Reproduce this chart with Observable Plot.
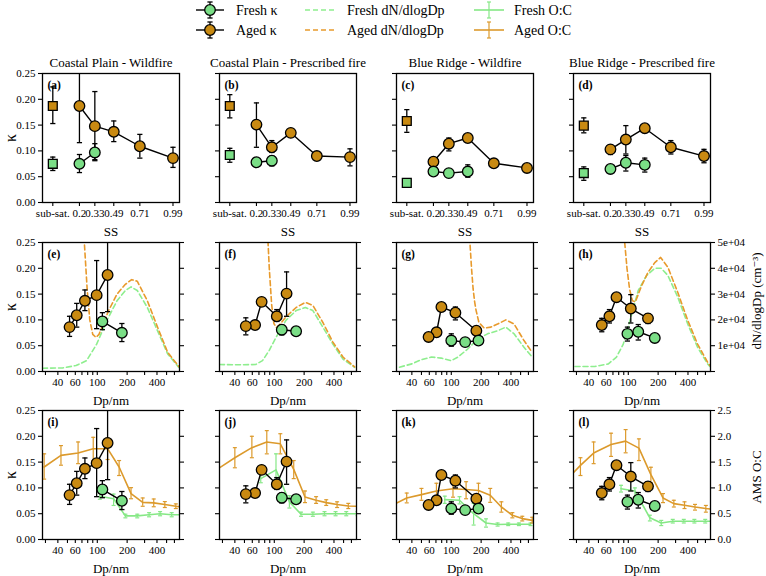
<!DOCTYPE html>
<html><head><meta charset="utf-8">
<script src="https://cdn.jsdelivr.net/npm/d3@7"></script>
<script src="https://cdn.jsdelivr.net/npm/@observablehq/plot@0.6"></script>
<style>
body{margin:0;background:#fff;}
#root{position:relative;width:766px;height:576px;overflow:hidden;background:#fff;font-family:"Liberation Serif","DejaVu Serif",serif;}
#root svg text{font-family:"Liberation Serif","DejaVu Serif",serif;}
#root svg g[aria-label$="tick label"] text{font-size:11px;}
</style></head><body><div id="root"></div>
<script>
// ---------------- data ----------------
const titles = ["Coastal Plain - Wildfire", "Coastal Plain - Prescribed fire", "Blue Ridge - Wildfire", "Blue Ridge - Prescribed fire"];
const panelLetters = ["a","b","c","d","e","f","g","h","i","j","k","l"];
const ssLabels = ["sub-sat.", "0.2", "0.33", "0.49", "0.71", "0.99"];
const ssPositions = [-0.025, 0.2, 0.33, 0.49, 0.71, 0.99];
const ssAged = [0.2, 0.33, 0.49, 0.71, 0.99];
const subSatX = -0.025;

const agedDp = [[127, 98.5, 75, 62, 52.5],[133, 106, 74.5, 64, 51.6],[179, 110, 79.5, 71, 59],[158, 106, 76, 64.5, 54]];
const agedKappa = [[0.187, 0.148, 0.137, 0.109, 0.086],[0.151, 0.107, 0.135, 0.090, 0.088],[0.079, 0.114, 0.125, 0.076, 0.067],[0.103, 0.122, 0.144, 0.107, 0.090]];
const agedKappaLo = [[0.116, 0.083, 0.118, 0.086, 0.068],[0.107, 0.097, 0.129, 0.086, 0.071],[0.075, 0.100, 0.117, 0.072, 0.062],[0.093, 0.094, 0.137, 0.094, 0.077]];
const agedKappaHi = [[0.262, 0.215, 0.158, 0.132, 0.107],[0.193, 0.120, 0.141, 0.094, 0.104],[0.083, 0.125, 0.132, 0.080, 0.071],[0.112, 0.149, 0.151, 0.120, 0.103]];

const freshSS = [[0.2, 0.33],[0.2, 0.33],[0.2, 0.33, 0.49],[0.2, 0.33, 0.49]];
const freshDp = [[177, 112.5],[166, 119],[188, 138, 100],[185, 126, 98]];
const freshKappa = [[0.075, 0.097],[0.078, 0.081],[0.060, 0.057, 0.060],[0.065, 0.077, 0.073]];
const freshKappaLo = [[0.058, 0.081],[0.070, 0.071],[0.057, 0.054, 0.049],[0.062, 0.061, 0.059]];
const freshKappaHi = [[0.093, 0.114],[0.086, 0.090],[0.063, 0.060, 0.073],[0.068, 0.091, 0.086]];

const subSatAged = [0.187, 0.187, 0.158, 0.149];
const subSatAgedLo = [0.153, 0.164, 0.136, 0.135];
const subSatAgedHi = [0.224, 0.209, 0.180, 0.164];
const subSatFresh = [0.075, 0.092, 0.038, 0.057];
const subSatFreshLo = [0.062, 0.078, 0.037, 0.043];
const subSatFreshHi = [0.088, 0.105, 0.039, 0.069];

const freshDnDp = [
  [28, 45, 61, 78, 98.5, 125, 158, 192, 219, 253, 320, 405, 513, 665],
  [28, 45, 65, 76, 89, 104, 131, 166, 206, 245, 309, 390, 493, 646],
  [30, 40, 50, 63, 79, 100, 117, 147, 185, 232, 293, 355, 430, 541, 655],
  [29, 46, 63, 76, 89, 104, 126, 153, 185, 215, 251, 316, 398, 500, 631, 665]];
const freshDn = [
  [1280, 1400, 2320, 4200, 10600, 19800, 27400, 31400, 32800, 31400, 24800, 15800, 6800, 1600],
  [2700, 2600, 2700, 4200, 8200, 13200, 19800, 23600, 24800, 23600, 17200, 10600, 4800, 1600],
  [1680, 2960, 4600, 5600, 5200, 4200, 5600, 8800, 12600, 14600, 15800, 17200, 14600, 9400, 5600],
  [1940, 1940, 2960, 5600, 10600, 19800, 31400, 37200, 40000, 40000, 37200, 28800, 18400, 9400, 2960, 2000]];
const agedDnDp = [
  [68, 74, 79, 84, 90, 97, 104, 115, 130, 158, 192, 222, 253, 320, 405, 513, 665],
  [84, 89, 94, 99, 105, 115, 131, 166, 206, 245, 309, 390, 493, 646],
  [153, 160, 166, 172, 178, 190, 215, 251, 293, 355, 430, 541, 655],
  [92, 97, 103, 110, 118, 136, 158, 185, 212, 251, 316, 398, 500, 631, 665]];
const agedDn = [
  [80000, 50000, 32000, 20000, 14400, 13200, 14400, 18400, 23600, 30000, 33800, 35600, 35000, 27400, 17200, 7400, 1940],
  [60000, 40000, 26000, 18600, 17000, 18400, 21200, 24800, 26800, 25600, 19000, 11400, 5600, 1800],
  [52000, 40000, 32000, 27000, 23600, 19000, 16800, 17200, 18400, 20000, 18400, 12000, 7400],
  [50000, 40000, 32000, 27400, 27000, 33200, 38400, 42200, 44200, 40400, 30600, 19800, 10600, 3600, 2400]];

const agedOcDp = [
  [29.1, 43, 64, 91, 127, 166, 219, 287, 371, 480, 620, 800],
  [26, 40, 59.4, 84, 115, 157, 204, 264, 334, 430, 558, 720],
  [25, 35.5, 50, 70.8, 104, 141, 188, 247, 320, 413, 520, 655],
  [25, 32.9, 44.7, 67, 94, 128, 169, 224, 288, 369, 471, 606, 780]];
const agedOc = [
  [1.405, 1.63, 1.675, 1.76, 1.76, 1.405, 0.89, 0.72, 0.71, 0.677, 0.644, 0.62],
  [1.35, 1.585, 1.78, 1.89, 1.855, 1.36, 0.825, 0.76, 0.715, 0.677, 0.65, 0.64],
  [0.66, 0.805, 0.87, 0.94, 0.985, 0.97, 0.95, 0.857, 0.63, 0.47, 0.405, 0.37],
  [1.2, 1.437, 1.675, 1.84, 1.907, 1.77, 1.256, 0.805, 0.696, 0.664, 0.63, 0.60, 0.58]];
const agedOcLo = [
  [1.17, 1.44, 1.47, 1.53, 1.55, 1.24, 0.79, 0.644, 0.635, 0.62, 0.60, 0.58],
  [1.15, 1.39, 1.585, 1.66, 1.66, 1.18, 0.715, 0.70, 0.66, 0.62, 0.60, 0.59],
  [0.57, 0.71, 0.76, 0.79, 0.82, 0.79, 0.79, 0.72, 0.53, 0.42, 0.36, 0.32],
  [1.0, 1.24, 1.47, 1.61, 1.68, 1.53, 1.10, 0.715, 0.63, 0.60, 0.57, 0.53, 0.52]];
const agedOcHi = [
  [1.66, 1.82, 1.89, 1.98, 1.97, 1.53, 1.005, 0.805, 0.785, 0.735, 0.69, 0.66],
  [1.55, 1.78, 2.0, 2.11, 2.05, 1.53, 0.94, 0.83, 0.77, 0.73, 0.70, 0.69],
  [0.75, 0.90, 0.99, 1.09, 1.15, 1.12, 1.09, 0.99, 0.73, 0.52, 0.45, 0.43],
  [1.4, 1.585, 1.89, 2.06, 2.13, 1.95, 1.40, 0.89, 0.76, 0.73, 0.68, 0.66, 0.64]];
const freshOcDp = [
  [106, 146, 192, 253, 333, 430, 563, 730],
  [73, 104, 142, 186, 245, 321, 415, 532, 690],
  [86, 121, 168, 224, 293, 375, 481, 630],
  [84.5, 116.6, 165, 215, 281, 363, 464, 597, 770]];
const freshOc = [
  [0.838, 0.79, 0.457, 0.457, 0.48, 0.50, 0.48, 0.48],
  [1.18, 1.35, 0.73, 0.49, 0.49, 0.50, 0.50, 0.50, 0.50],
  [0.773, 0.76, 0.50, 0.32, 0.29, 0.296, 0.296, 0.296],
  [0.985, 0.94, 0.42, 0.32, 0.354, 0.354, 0.354, 0.354, 0.354]];
const freshOcLo = [
  [0.78, 0.66, 0.42, 0.42, 0.44, 0.46, 0.44, 0.44],
  [1.10, 1.08, 0.61, 0.45, 0.45, 0.46, 0.46, 0.46, 0.46],
  [0.70, 0.69, 0.28, 0.24, 0.26, 0.27, 0.27, 0.27],
  [0.92, 0.83, 0.36, 0.27, 0.32, 0.32, 0.32, 0.32, 0.32]];
const freshOcHi = [
  [0.90, 0.88, 0.49, 0.49, 0.52, 0.54, 0.52, 0.52],
  [1.26, 1.66, 0.85, 0.53, 0.53, 0.54, 0.54, 0.54, 0.54],
  [0.84, 0.83, 0.70, 0.40, 0.32, 0.32, 0.32, 0.32],
  [1.05, 1.00, 0.47, 0.37, 0.39, 0.39, 0.39, 0.39, 0.39]];

const kappaTicks = [0, 0.05, 0.10, 0.15, 0.20, 0.25];
const dnTicks = [0, 1e4, 2e4, 3e4, 4e4, 5e4];
const dnTickLabels = ["", "1e+04", "2e+04", "3e+04", "4e+04", "5e+04"];
const ocTicks = [0, 0.5, 1.0, 1.5, 2.0, 2.5];
const dpTicks = [30, 40, 50, 60, 70, 80, 90, 100, 200, 300, 400, 500, 600];
const dpLabels = [40, 60, 100, 200, 400];
const legendKappaLabels = ["Fresh κ", "Aged κ"];
const legendDnLabels = ["Fresh dN/dlogDp", "Aged dN/dlogDp"];
const legendOcLabels = ["Fresh O:C", "Aged O:C"];

// ---------------- style / layout ----------------
const KAPPA_MAX = 0.25, DN_MAX = 5e4, OC_MAX = 2.5;
const DN_PER_KAPPA = DN_MAX / KAPPA_MAX, OC_PER_KAPPA = OC_MAX / KAPPA_MAX;
const AGED_FILL = "#c98a12", FRESH_FILL = "#7ade86";
const AGED_DN = "#e89a2c", FRESH_DN = "#8eee8e";
const AGED_OC = "#dc9a2c", FRESH_OC = "#86e886";
const FONT = "'Liberation Serif','DejaVu Serif',serif";
const colLefts = [42, 219, 396, 573], rowTops = [73, 242, 410];
const FW = 137, FH = 129, ML = 46, MR = 62, MT = 26, MB = 40;
const TICK_FONT = 11;

const idx = a => d3.range(a.length);
const cap = {draw(ctx, size) { const w = Math.sqrt(size / Math.PI); ctx.moveTo(-w, 0); ctx.lineTo(w, 0); }};

function kappaSeries(xs, ys, lo, hi, fill, symbol, withLine) {
  const I = idx(xs), ms = [];
  if (withLine) ms.push(Plot.line(I, {x: i => xs[i], y: i => ys[i], stroke: "#000", strokeWidth: 1.4}));
  ms.push(Plot.ruleX(I, {x: i => xs[i], y1: i => lo[i], y2: i => hi[i], stroke: "#000", strokeWidth: 1.3, clip: true}));
  ms.push(Plot.dot(I, {x: i => xs[i], y: i => lo[i], symbol: cap, r: 2.6, fill: "none", stroke: "#000", strokeWidth: 1.3, clip: true}));
  ms.push(Plot.dot(I, {x: i => xs[i], y: i => hi[i], symbol: cap, r: 2.6, fill: "none", stroke: "#000", strokeWidth: 1.3, clip: true}));
  ms.push(Plot.dot(I, {x: i => xs[i], y: i => ys[i], symbol, r: symbol === "square" ? 5 : 5.3, fill, stroke: "#000", strokeWidth: 1.3}));
  return ms;
}
function ocSeries(xs, ys, lo, hi, color) {
  const I = idx(xs);
  return [
    Plot.line(I, {x: i => xs[i], y: i => ys[i] / OC_PER_KAPPA, stroke: color, strokeWidth: 1.6, clip: true}),
    Plot.ruleX(I, {x: i => xs[i], y1: i => lo[i] / OC_PER_KAPPA, y2: i => hi[i] / OC_PER_KAPPA, stroke: color, strokeWidth: 1.2, clip: true}),
    Plot.dot(I, {x: i => xs[i], y: i => lo[i] / OC_PER_KAPPA, symbol: cap, r: 2, fill: "none", stroke: color, strokeWidth: 1.2, clip: true}),
    Plot.dot(I, {x: i => xs[i], y: i => hi[i] / OC_PER_KAPPA, symbol: cap, r: 2, fill: "none", stroke: color, strokeWidth: 1.2, clip: true})
  ];
}
function dnLine(xs, ys, color) {
  const I = idx(xs);
  return Plot.line(I, {x: i => xs[i], y: i => ys[i] / DN_PER_KAPPA, stroke: color, strokeWidth: 1.6, strokeDasharray: "5,3", clip: true});
}
const label = (t, o) => Plot.text([t], {text: d => d, lineAnchor: "middle", fontFamily: FONT, ...o});
const axOpts = {tickSize: 4, tickPadding: 3, label: null, fontSize: TICK_FONT, fontFamily: FONT, strokeWidth: 1.1};

function makePanel(row, col) {
  const marks = [];
  if (row === 1) {
    marks.push(dnLine(freshDnDp[col], freshDn[col], FRESH_DN));
    marks.push(dnLine(agedDnDp[col], agedDn[col], AGED_DN));
  }
  if (row === 2) {
    marks.push(...ocSeries(freshOcDp[col], freshOc[col], freshOcLo[col], freshOcHi[col], FRESH_OC));
    marks.push(...ocSeries(agedOcDp[col], agedOc[col], agedOcLo[col], agedOcHi[col], AGED_OC));
  }
  if (row === 0) {
    marks.push(...kappaSeries(ssAged, agedKappa[col], agedKappaLo[col], agedKappaHi[col], AGED_FILL, "circle", true));
    marks.push(...kappaSeries(freshSS[col], freshKappa[col], freshKappaLo[col], freshKappaHi[col], FRESH_FILL, "circle", true));
    marks.push(...kappaSeries([subSatX], [subSatAged[col]], [subSatAgedLo[col]], [subSatAgedHi[col]], AGED_FILL, "square", false));
    marks.push(...kappaSeries([subSatX], [subSatFresh[col]], [subSatFreshLo[col]], [subSatFreshHi[col]], FRESH_FILL, "square", false));
  } else {
    marks.push(...kappaSeries(agedDp[col], agedKappa[col], agedKappaLo[col], agedKappaHi[col], AGED_FILL, "circle", true));
    marks.push(...kappaSeries(freshDp[col], freshKappa[col], freshKappaLo[col], freshKappaHi[col], FRESH_FILL, "circle", true));
  }
  // axes
  marks.push(Plot.axisY({anchor: "left", ticks: kappaTicks, ...axOpts,
    tickFormat: col === 0 ? d => d.toFixed(2) : () => ""}));
  if (row === 1) {
    marks.push(Plot.axisY({anchor: "right", ticks: dnTicks.map(v => v / DN_PER_KAPPA), ...axOpts,
      tickFormat: col === 3 ? d => dnTickLabels[dnTicks.indexOf(Math.round(d * DN_PER_KAPPA))] : () => ""}));
  }
  if (row === 2) {
    marks.push(Plot.axisY({anchor: "right", ticks: ocTicks.map(v => v / OC_PER_KAPPA), ...axOpts,
      tickFormat: col === 3 ? d => (d * OC_PER_KAPPA).toFixed(1) : () => ""}));
  }
  if (row === 0) {
    marks.push(Plot.axisX({ticks: ssPositions, ...axOpts,
      tickFormat: d => ssLabels[ssPositions.indexOf(d)]}));
  } else {
    marks.push(Plot.axisX({ticks: dpTicks, ...axOpts,
      tickFormat: d => dpLabels.includes(d) ? String(d) : ""}));
  }
  marks.push(Plot.frame({stroke: "#000", strokeWidth: 1.3}));
  // texts
  marks.push(label(`(${panelLetters[row * 4 + col]})`, {frameAnchor: "top-left", textAnchor: "start", dx: 5, dy: 12, fontWeight: "bold", fontSize: 11.5}));
  if (row === 0) marks.push(label(titles[col], {frameAnchor: "top", dy: -11, fontSize: 13}));
  marks.push(label(row === 0 ? "SS" : "Dp/nm", {frameAnchor: "bottom", dy: 29, fontSize: 13}));
  if (col === 0) marks.push(label("κ", {frameAnchor: "left", textAnchor: "middle", dx: -32, rotate: -90, fontSize: 16}));
  if (col === 3 && row === 1) marks.push(label("dN/dlogDp (cm⁻³)", {frameAnchor: "right", textAnchor: "middle", dx: 46, dy: -6, rotate: -90, fontSize: 13}));
  if (col === 3 && row === 2) marks.push(label("AMS O:C", {frameAnchor: "right", textAnchor: "middle", dx: 46, dy: 2, rotate: -90, fontSize: 13}));

  const svg = Plot.plot({
    width: FW + ML + MR, height: FH + MT + MB,
    marginLeft: ML, marginRight: MR, marginTop: MT, marginBottom: MB,
    x: row === 0 ? {type: "linear", domain: [-0.112, 1.045]} : {type: "log", domain: [28, 675]},
    y: {type: "linear", domain: [0, KAPPA_MAX]},
    style: {background: "transparent", fontFamily: FONT, fontSize: TICK_FONT + "px", overflow: "visible", color: "#000"},
    marks
  });
  svg.style.position = "absolute";
  svg.style.left = (colLefts[col] - ML) + "px";
  svg.style.top = (rowTops[row] - MT) + "px";
  svg.style.maxWidth = "none";
  return svg;
}

const root = document.getElementById("root");
for (let r = 0; r < 3; r++) for (let c = 0; c < 4; c++) root.appendChild(makePanel(r, c));

// ---------------- legend ----------------
const leg = d3.select(root).append("svg").attr("width", 766).attr("height", 44)
  .style("position", "absolute").style("left", "0px").style("top", "0px")
  .style("font-family", FONT).style("font-size", "14px");
const legY = [10, 30];
const kFill = [FRESH_FILL, AGED_FILL], dnCol = [FRESH_DN, AGED_DN], ocCol = [FRESH_OC, AGED_OC];
for (let k = 0; k < 2; k++) {
  const y = legY[k];
  const g = leg.append("g");
  const cx = 210;
  g.append("line").attr("x1", cx - 14).attr("x2", cx + 14).attr("y1", y).attr("y2", y).attr("stroke", "#000").attr("stroke-width", 1.4);
  g.append("line").attr("x1", cx).attr("x2", cx).attr("y1", y - 8).attr("y2", y + 8).attr("stroke", "#000").attr("stroke-width", 1.3);
  g.append("line").attr("x1", cx - 2.6).attr("x2", cx + 2.6).attr("y1", y - 8).attr("y2", y - 8).attr("stroke", "#000").attr("stroke-width", 1.3);
  g.append("line").attr("x1", cx - 2.6).attr("x2", cx + 2.6).attr("y1", y + 8).attr("y2", y + 8).attr("stroke", "#000").attr("stroke-width", 1.3);
  g.append("circle").attr("cx", cx).attr("cy", y).attr("r", 5.3).attr("fill", kFill[k]).attr("stroke", "#000").attr("stroke-width", 1.3);
  g.append("text").attr("x", 236).attr("y", y).attr("dy", "0.35em").text(legendKappaLabels[k]);
  g.append("line").attr("x1", 305).attr("x2", 335).attr("y1", y).attr("y2", y).attr("stroke", dnCol[k]).attr("stroke-width", 1.6).attr("stroke-dasharray", "5,3");
  g.append("text").attr("x", 347).attr("y", y).attr("dy", "0.35em").text(legendDnLabels[k]);
  const ox = 489;
  g.append("line").attr("x1", ox - 15).attr("x2", ox + 15).attr("y1", y).attr("y2", y).attr("stroke", ocCol[k]).attr("stroke-width", 1.6);
  g.append("line").attr("x1", ox).attr("x2", ox).attr("y1", y - 8).attr("y2", y + 8).attr("stroke", ocCol[k]).attr("stroke-width", 1.2);
  g.append("line").attr("x1", ox - 2).attr("x2", ox + 2).attr("y1", y - 8).attr("y2", y - 8).attr("stroke", ocCol[k]).attr("stroke-width", 1.2);
  g.append("line").attr("x1", ox - 2).attr("x2", ox + 2).attr("y1", y + 8).attr("y2", y + 8).attr("stroke", ocCol[k]).attr("stroke-width", 1.2);
  g.append("text").attr("x", 514).attr("y", y).attr("dy", "0.35em").text(legendOcLabels[k]);
}
</script></body></html>
